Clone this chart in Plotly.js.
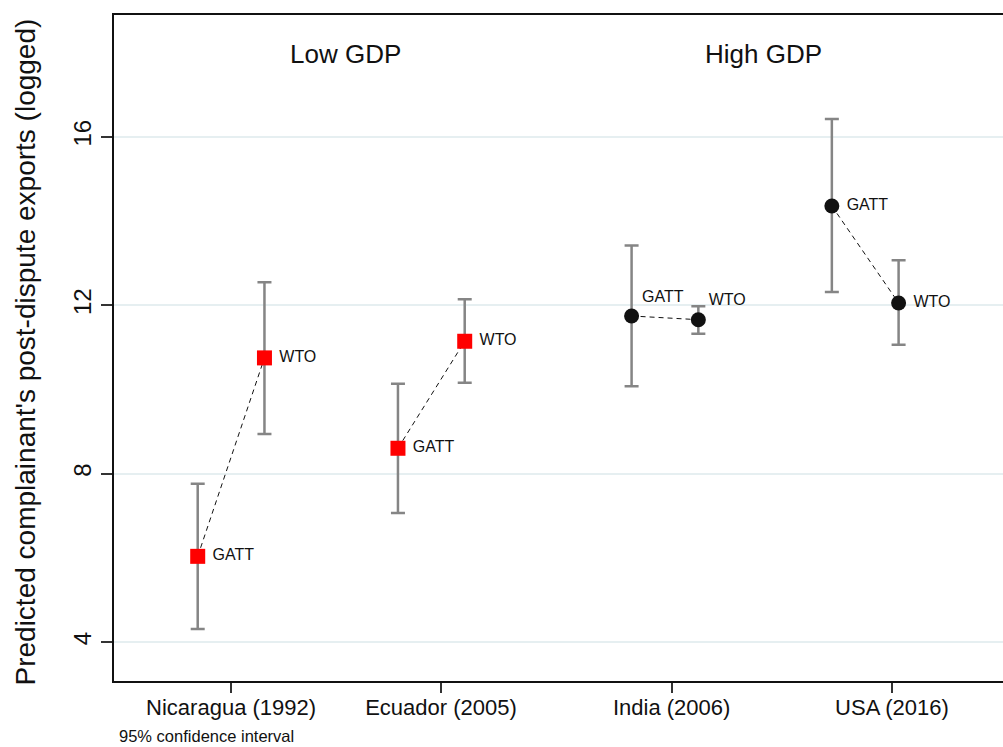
<!DOCTYPE html>
<html>
<head>
<meta charset="utf-8">
<script src="https://cdn.plot.ly/plotly-3.0.1.min.js"></script>
<style>html,body{margin:0;padding:0;background:#fff;}#chart{width:1003px;height:747px;}</style>
</head>
<body>
<div id="chart"></div>
<script>
// ---- data ----
const countries = ['Nicaragua (1992)', 'Ecuador (2005)', 'India (2006)', 'USA (2016)'];
const countryTickX = [0.5, 3.645, 7.1, 10.4];
const gdpGroup = ['Low', 'Low', 'High', 'High'];
const groupLabels = ['Low GDP', 'High GDP'];
const groupLabelX = [2.22, 8.48];

const gattX = [0, 3, 6.5, 9.5];
const gattEst = [6.04, 8.605, 11.745, 14.356];
const gattLo = [4.316, 7.069, 10.076, 12.317];
const gattHi = [7.765, 10.138, 13.42, 16.42];

const wtoX = [1, 4, 7.5, 10.5];
const wtoEst = [10.75, 11.145, 11.657, 12.054];
const wtoLo = [8.944, 10.162, 11.325, 11.064];
const wtoHi = [12.545, 12.141, 11.976, 13.067];

const yTicks = [4, 8, 12, 16];
const note = '95% confidence interval';
const yTitle = "Predicted complainant's post-dispute exports (logged)";

// ---- build ----
const FONT = 'Liberation Sans, Arial, Helvetica, sans-serif';
const traces = [];

// dashed connectors
countries.forEach((c, i) => {
  traces.push({
    x: [gattX[i], wtoX[i]], y: [gattEst[i], wtoEst[i]],
    mode: 'lines', type: 'scatter', hoverinfo: 'skip', showlegend: false,
    line: {color: '#111', width: 1, dash: '5px,4px'}
  });
});

// points with CIs
countries.forEach((c, i) => {
  const low = gdpGroup[i] === 'Low';
  const textPos = (c.startsWith('India')) ? 'top right' : 'middle right';
  const ys = [gattEst[i], wtoEst[i]];
  traces.push({
    x: [gattX[i], wtoX[i]], y: ys,
    type: 'scatter', mode: 'markers+text', showlegend: false,
    text: ['GATT', 'WTO'],
    texttemplate: (c.startsWith('India')) ? '%{text}' : '\u00a0%{text}',
    textposition: textPos,
    textfont: {family: FONT, size: 16, color: '#111'},
    marker: {symbol: low ? 'square' : 'circle', size: 15,
             color: low ? '#ff0000' : '#111111', line: {width: 0}},
    error_y: {type: 'data', symmetric: false,
              array: [gattHi[i] - gattEst[i], wtoHi[i] - wtoEst[i]],
              arrayminus: [gattEst[i] - gattLo[i], wtoEst[i] - wtoLo[i]],
              color: '#858585', thickness: 2.5, width: 7}
  });
});

const annotations = groupLabels.map((g, k) => ({
  x: groupLabelX[k], y: 17.96, xref: 'x', yref: 'y', text: g, showarrow: false,
  font: {family: FONT, size: 26, color: '#111'}, xanchor: 'center', yanchor: 'middle'
}));
annotations.push({
  x: 0.0034, y: -0.083, xref: 'paper', yref: 'paper', text: note, showarrow: false,
  xanchor: 'left', yanchor: 'middle', font: {family: FONT, size: 16.5, color: '#111'}
});
annotations.push({
  x: 25, y: -0.0105, xref: 'paper', yref: 'paper', text: yTitle, showarrow: false,
  textangle: -90, xanchor: 'center', yanchor: 'bottom',
  font: {family: FONT, size: 28, color: '#111'}
});

const layout = {
  width: 1003, height: 747,
  margin: {l: 114, r: 0, t: 15, b: 66, pad: 0},
  paper_bgcolor: '#fff', plot_bgcolor: '#fff',
  font: {family: FONT, color: '#111'},
  showlegend: false,
  xaxis: {
    range: [-1.254, 12.064], showgrid: false, zeroline: false,
    showline: true, linecolor: '#111', linewidth: 2, mirror: true,
    tickmode: 'array', tickvals: countryTickX, ticktext: countries,
    ticks: 'outside', ticklen: 10, tickwidth: 2, tickcolor: '#333',
    ticklabelstandoff: -4,
    tickfont: {family: FONT, size: 22, color: '#111'}
  },
  yaxis: {
    range: [3.081, 18.889], zeroline: false,
    showgrid: true, gridcolor: '#e6eff1', gridwidth: 2,
    showline: true, linecolor: '#111', linewidth: 2,
    tickmode: 'array', tickvals: yTicks, ticktext: yTicks.map(String),
    ticks: 'outside', ticklen: 11, tickwidth: 2, tickcolor: '#333',
    tickangle: -90,
    tickfont: {family: FONT, size: 24, color: '#111'}
  },
  annotations: annotations
};

// y-axis title placed by pixel column via paper coordinates
const plotW = layout.width - layout.margin.l - layout.margin.r;
annotations[annotations.length - 1].x = (25 - layout.margin.l) / plotW;

Plotly.newPlot('chart', traces, layout, {displayModeBar: false, staticPlot: true});
</script>
</body>
</html>
